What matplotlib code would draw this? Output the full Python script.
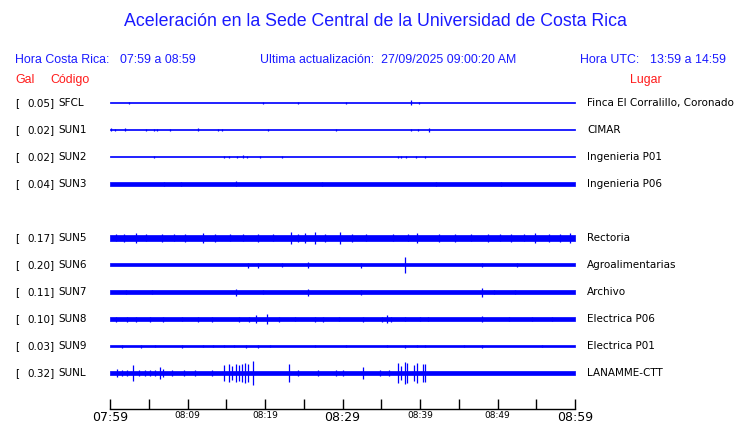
import numpy as np
import matplotlib
matplotlib.use("Agg")
import matplotlib.pyplot as plt

# station rows (None = empty slot)
codes = ["SFCL", "SUN1", "SUN2", "SUN3", None, "SUN5", "SUN6", "SUN7", "SUN8", "SUN9", "SUNL"]
gal = [0.05, 0.02, 0.02, 0.04, None, 0.17, 0.20, 0.11, 0.10, 0.03, 0.32]
places = ["Finca El Corralillo, Coronado", "CIMAR", "Ingenieria P01", "Ingenieria P06", None,
          "Rectoria", "Agroalimentarias", "Archivo", "Electrica P06", "Electrica P01", "LANAMME-CTT"]

# band half-width per 5-minute block (trace units, 27 units = row spacing)
band = {
    "SFCL": [0.5] * 12,
    "SUN1": [0.5] * 12,
    "SUN2": [0.5] * 12,
    "SUN3": [1.6] * 12,
    "SUN5": [2.6] * 12,
    "SUN6": [1.5] * 12,
    "SUN7": [1.6] * 12,
    "SUN8": [1.7, 1.7, 1.7, 1.7, 1.7, 1.7, 1.7, 1.7, 1.7, 1.8, 1.8, 1.9],
    "SUN9": [0.5] * 12,
    "SUNL": [2.1, 2.1, 2.1, 2.1, 2.1, 2.1, 2.1, 2.1, 2.1, 1.6, 1.6, 1.6],
}

# spikes: (minute, half amplitude)
spikes = {
    "SFCL": [(2.5, 1), (19.7, 1), (24.3, 1), (30.5, 1.3), (38.8, 2.5), (39.9, 1)],
    "SUN1": [(0.1, 1.5), (0.6, 1), (1.9, 1.5), (4.7, 1.2), (5.7, 1), (6.1, 1), (7.8, 1),
             (11.3, 1.5), (13.9, 1.2), (14.4, 1), (20.4, 1), (29.2, 1.2), (38.8, 1.2),
             (39.8, 1.2), (41.2, 1.7)],
    "SUN2": [(5.7, 1), (14.75, 1), (15.4, 1.2), (16.4, 1), (17.2, 1.5), (17.7, 1.2), (19.3, 1),
             (22.2, 1), (37.2, 1), (37.5, 1), (38.2, 1.2), (39.5, 1), (40.6, 1)],
    "SUN3": [(7.0, 1.8), (9.2, 1.8), (16.3, 2.5), (27.3, 2.0), (42.0, 1.8), (50.5, 1.8)],
    "SUN5": [(0.8, 3.5), (1.8, 4), (3.4, 5), (4.6, 3.5), (6.7, 4), (8.2, 3.5), (9.7, 4),
             (12.0, 5), (13.6, 4), (15.5, 3.5), (17.2, 3.5), (19.1, 4), (21.0, 3.5), (23.3, 6),
             (24.3, 4), (25.2, 5), (26.4, 6), (27.7, 4), (29.7, 6), (31.2, 4), (33.0, 3.5),
             (36.5, 3.5), (38.4, 3.5), (39.6, 5), (42.4, 4), (44.5, 4), (46.6, 3.5), (48.8, 4),
             (50.3, 3.5), (51.8, 4), (53.4, 3.5), (54.9, 5), (56.6, 4), (58.0, 4), (59.3, 5)],
    "SUN6": [(17.8, 2.5), (19.1, 2.5), (22.2, 2), (25.5, 3), (32.4, 2.5), (38.0, 8),
             (48.0, 2), (52.5, 2)],
    "SUN7": [(2.0, 2.2), (5.4, 2.2), (16.2, 3.5), (19.7, 2.2), (25.5, 3.5), (32.4, 2.5),
             (48.0, 4.5), (49.6, 2.2), (52.3, 2.2)],
    "SUN8": [(0.8, 2.5), (2.2, 2.5), (3.4, 2.5), (5.2, 2.5), (6.9, 2.5), (9.3, 2.2), (11.3, 2.5),
             (13.2, 2.5), (16.7, 2.5), (17.9, 2.5), (18.9, 4), (20.2, 5), (21.8, 2.5), (23.9, 2.2),
             (26.5, 2.5), (27.5, 2.5), (29.5, 2.2), (32.6, 2.5), (35.1, 2.5), (35.7, 4),
             (36.3, 2.5), (38.1, 2.2), (40.0, 2.2), (41.0, 2.2), (48.0, 3), (51.5, 2.2),
             (54.5, 2.2), (57.0, 2.2)],
    "SUN9": [(1.6, 1.5), (4.0, 1.5), (5.8, 1.2), (9.3, 1.5), (12.0, 1.2), (13.3, 1.2),
             (14.7, 1.2), (16.0, 1.2), (17.6, 1.5), (19.1, 1.5), (20.6, 1.2), (26.5, 1.2),
             (30.4, 1.2), (35.7, 1.2), (38.1, 1.5), (39.6, 1.2), (40.7, 1.2), (45.7, 1.2),
             (48.0, 1.5), (55.7, 1.2)],
    "SUNL": [(0.9, 4), (1.5, 3), (2.2, 3), (3.0, 8), (3.8, 3), (4.5, 3), (5.2, 3), (5.8, 3),
             (6.4, 6), (6.8, 4), (8.0, 3), (9.5, 3), (11.0, 3), (13.1, 3),
             (14.7, 8), (15.4, 9), (15.8, 7), (16.3, 9), (16.6, 8), (17.0, 9), (17.4, 10),
             (17.8, 9), (18.4, 12), (23.1, 9), (24.2, 3), (26.9, 3), (29.2, 3), (30.0, 3),
             (32.6, 6), (34.8, 3), (36.0, 3), (37.2, 10), (37.5, 7), (38.1, 11), (38.3, 10),
             (39.2, 8), (39.6, 10), (40.4, 9), (40.6, 9)],
}

tick_min = list(range(0, 61, 5))
tick_txt = {0: "07:59", 10: "08:09", 20: "08:19", 30: "08:29", 40: "08:39", 50: "08:49", 60: "08:59"}
big_ticks = [0, 30, 60]

W, H = 740, 423
BLUE = "#0000ff"
TXTBLUE = "#1a1aff"
RED = "#ff1a1a"

fig = plt.figure(figsize=(W / 100, H / 100), dpi=100)
fig.patch.set_facecolor("white")

def fx(px):
    return px / W

def fy(py):
    return 1 - py / H

# trace axes: x in minutes, y in rows (27 px per row), row 0 at y=103 px
top_px, bot_px = 90, 409
ax = fig.add_axes([fx(110), fy(bot_px), fx(575) - fx(110), (bot_px - top_px) / H])
row0 = 103
ax.set_xlim(0, 60)
ax.set_ylim((bot_px - row0) / 27, (top_px - row0) / 27)

unit = 1 / 27.0
for i, c in enumerate(codes):
    if c is None:
        continue
    edges = np.arange(0, 61, 5)
    hw = np.array(band[c] + [band[c][-1]]) * unit
    ax.fill_between(edges, i - hw, i + hw, step="post", color=BLUE, lw=0.5, ec=BLUE)
    sx = [s[0] for s in spikes[c]]
    sa = np.array([s[1] for s in spikes[c]]) * unit
    ax.vlines(sx, i - sa, i + sa, color=BLUE, lw=0.9)

for s in ["top", "left", "right"]:
    ax.spines[s].set_visible(False)
ax.spines["bottom"].set_linewidth(1.0)
ax.set_yticks([])
ax.set_xticks(tick_min)
ax.set_xticklabels([tick_txt.get(t, "") for t in tick_min])
ax.tick_params(axis="x", direction="in", length=7, width=1.0, pad=1.5, labelsize=6.5)
for t, lab in zip(tick_min, ax.get_xticklabels()):
    if t in big_ticks:
        lab.set_fontsize(9)
ax.patch.set_alpha(0)

# title and headers
fig.text(fx(375), fy(22), "Aceleración en la Sede Central de la Universidad de Costa Rica",
         ha="center", va="center", color=TXTBLUE, fontsize=12.8, family="Liberation Sans")
hdr = dict(va="center", color=TXTBLUE, fontsize=8.9, family="Liberation Sans")
fig.text(fx(15), fy(60), "Hora Costa Rica:", ha="left", **hdr)
fig.text(fx(120), fy(60), "07:59 a 08:59", ha="left", **hdr)
fig.text(fx(260), fy(60), "Ultima actualización:  27/09/2025 09:00:20 AM", ha="left", **hdr)
fig.text(fx(580), fy(60), "Hora UTC:", ha="left", **hdr)
fig.text(fx(650), fy(60), "13:59 a 14:59", ha="left", **hdr)
red = dict(va="center", color=RED, fontsize=8.9, family="Liberation Sans")
fig.text(fx(15), fy(80), "Gal", ha="left", **red)
fig.text(fx(50), fy(80), "Código", ha="left", **red)
fig.text(fx(630), fy(80), "Lugar", ha="left", **red)

for i, c in enumerate(codes):
    if c is None:
        continue
    yy = fy(row0 + 27 * i)
    fig.text(fx(15), yy, "[", ha="left", va="center", fontsize=7.5)
    fig.text(fx(55), yy, "%.2f]" % gal[i], ha="right", va="center", fontsize=7.5)
    fig.text(fx(58.5), yy, c, ha="left", va="center", fontsize=7.5)
    fig.text(fx(587), yy, places[i], ha="left", va="center", fontsize=7.5)

fig.savefig("out.png", dpi=100)
